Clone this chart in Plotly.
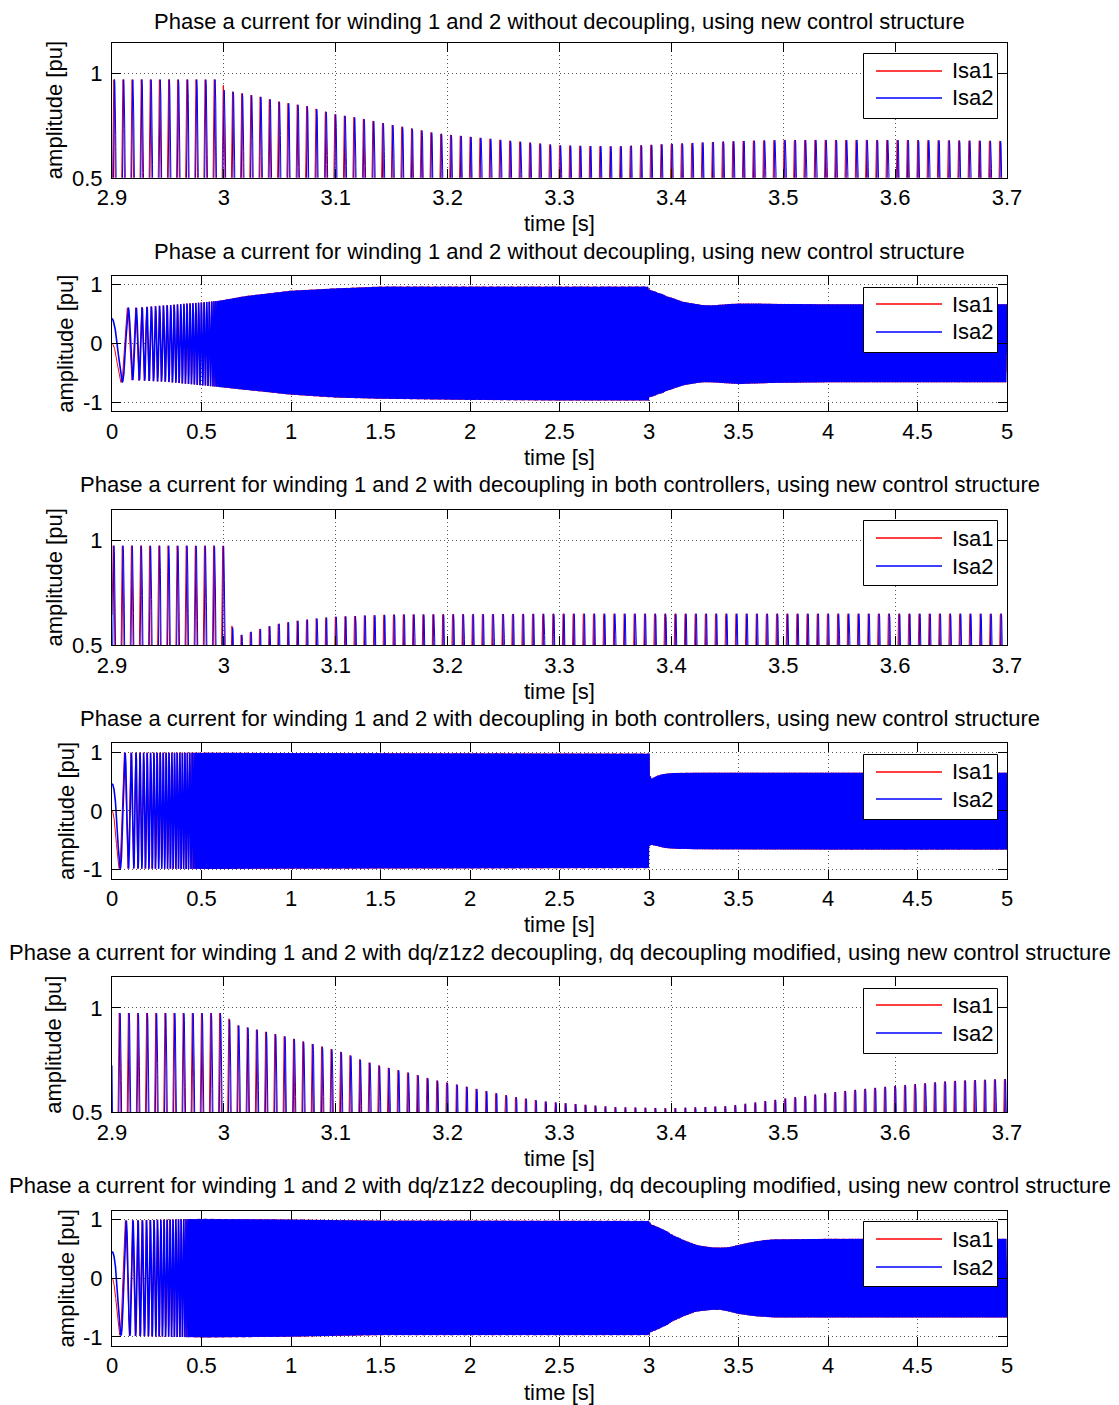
import numpy as np
import plotly.graph_objects as go

# page is drawn with the browser's default 8px body margin -> figure is placed at (8, 8)
# and every reference pixel position is shifted by OFF
OFF = 8
W, H = 1119 - OFF, 1405 - OFF

# ---------------- data ----------------
SERIES = ["Isa1", "Isa2"]
SERIES_COLORS = ["#ff0000", "#0000ff"]
ISA2_LAG_DEG = 30.0

TITLES = [
    "Phase a current for winding 1 and 2 without decoupling, using new control structure",
    "Phase a current for winding 1 and 2 without decoupling, using new control structure",
    "Phase a current for winding 1 and 2 with decoupling in both controllers, using new control structure",
    "Phase a current for winding 1 and 2 with decoupling in both controllers, using new control structure",
    "Phase a current for winding 1 and 2 with dq/z1z2 decoupling, dq decoupling modified, using new control structure",
    "Phase a current for winding 1 and 2 with dq/z1z2 decoupling, dq decoupling modified, using new control structure",
]
X_LABEL = "time [s]"
Y_LABEL = "amplitude [pu]"

ZOOM_XTICKS = [2.9, 3.0, 3.1, 3.2, 3.3, 3.4, 3.5, 3.6, 3.7]
ZOOM_XTICKTEXT = ["2.9", "3", "3.1", "3.2", "3.3", "3.4", "3.5", "3.6", "3.7"]
ZOOM_YTICKS = [0.5, 1.0]
ZOOM_YTICKTEXT = ["0.5", "1"]
FULL_XTICKS = [0, 0.5, 1, 1.5, 2, 2.5, 3, 3.5, 4, 4.5, 5]
FULL_XTICKTEXT = ["0", "0.5", "1", "1.5", "2", "2.5", "3", "3.5", "4", "4.5", "5"]
FULL_YTICKS = [-1, 0, 1]
FULL_YTICKTEXT = ["-1", "0", "1"]

# scenario 1: without decoupling (envelope of positive / negative peaks)
ENV1_T = [0.0, 0.05, 0.1, 0.3, 0.5, 0.6, 0.75, 1.0, 1.25, 1.5, 2.0, 2.5, 2.999, 3.0,
          3.033, 3.05, 3.074, 3.098, 3.123, 3.148, 3.172, 3.189, 3.25, 3.3, 3.35,
          3.4, 3.45, 3.5, 3.6, 3.7, 4.0, 5.0]
ENV1_UP = [0.86, 0.62, 0.60, 0.65, 0.70, 0.73, 0.81, 0.90, 0.94, 0.97, 0.97, 0.97, 0.97, 0.92,
           0.887, 0.863, 0.843, 0.805, 0.784, 0.755, 0.732, 0.713, 0.68, 0.655, 0.65,
           0.662, 0.674, 0.681, 0.681, 0.676, 0.67, 0.67]
ENV1_LO = [0.66, 0.66, 0.62, 0.65, 0.71, 0.74, 0.79, 0.87, 0.92, 0.94, 0.96, 0.97, 0.97, 0.92,
           0.887, 0.863, 0.843, 0.805, 0.784, 0.755, 0.732, 0.713, 0.68, 0.66, 0.66,
           0.67, 0.68, 0.69, 0.68, 0.67, 0.66, 0.66]
FREQ1_T = [0.0, 0.2, 0.55, 0.61, 3.0, 3.2, 3.4, 5.0]
FREQ1_HZ = [0.0, 40.0, 70.0, 122.5, 122.5, 114.0, 109.0, 109.0]

# scenario 2: decoupling in both controllers
ENV2_T = [0.0, 0.04, 0.5, 1.0, 2.0, 2.999, 3.0, 3.003, 3.01, 3.014, 3.031, 3.047,
          3.064, 3.081, 3.098, 3.125, 3.151, 3.3, 4.0, 5.0]
ENV2_UP = [0.92, 0.99, 0.99, 0.985, 0.98, 0.975, 0.975, 0.64, 0.56, 0.546, 0.575, 0.60,
           0.615, 0.626, 0.635, 0.641, 0.646, 0.65, 0.65, 0.65]
ENV2_LO = [0.98, 0.98, 0.99, 0.985, 0.98, 0.975, 0.975, 0.60, 0.58, 0.58, 0.59, 0.60,
           0.615, 0.626, 0.635, 0.641, 0.646, 0.655, 0.66, 0.66]
FREQ2_T = [0.0, 0.15, 0.44, 0.48, 3.0, 3.1, 3.3, 5.0]
FREQ2_HZ = [0.0, 47.0, 75.0, 122.5, 122.5, 116.0, 110.0, 110.0]

# scenario 3: dq/z1z2 decoupling, dq decoupling modified
ENV3_T = [0.0, 0.043, 0.07, 0.5, 0.95, 1.5, 2.0, 2.999, 3.0, 3.009, 3.05, 3.083, 3.107,
          3.123, 3.14, 3.156, 3.172, 3.189, 3.209, 3.227, 3.245, 3.263, 3.289, 3.35,
          3.4, 3.45, 3.5, 3.55, 3.6, 3.65, 3.7, 4.0, 5.0]
ENV3_UP = [0.90, 0.97, 0.98, 1.01, 1.0, 0.98, 0.98, 0.975, 0.975, 0.921, 0.87, 0.822, 0.786,
           0.75, 0.722, 0.702, 0.68, 0.654, 0.632, 0.611, 0.59, 0.571, 0.551, 0.525,
           0.52, 0.53, 0.565, 0.60, 0.627, 0.65, 0.66, 0.67, 0.67]
ENV3_LO = [0.97, 0.97, 0.98, 1.01, 1.0, 0.97, 0.97, 0.97, 0.97, 0.921, 0.87, 0.822, 0.786,
           0.75, 0.722, 0.702, 0.68, 0.654, 0.632, 0.611, 0.59, 0.571, 0.56, 0.54,
           0.54, 0.57, 0.61, 0.63, 0.65, 0.66, 0.67, 0.67, 0.67]
FREQ3_T = [0.0, 0.15, 0.40, 0.44, 3.0, 3.2, 3.35, 5.0]
FREQ3_HZ = [0.0, 40.0, 70.0, 122.5, 122.5, 114.0, 112.0, 112.0]

SCENARIOS = [
    (ENV1_T, ENV1_UP, ENV1_LO, FREQ1_T, FREQ1_HZ),
    (ENV2_T, ENV2_UP, ENV2_LO, FREQ2_T, FREQ2_HZ),
    (ENV3_T, ENV3_UP, ENV3_LO, FREQ3_T, FREQ3_HZ),
]
T_START, T_END = 0.0, 5.0
ZOOM_START, ZOOM_END = 2.9, 3.7

# ---------------- signal reconstruction ----------------
t = np.round(np.arange(0, 50001) * 1e-4, 6)


def currents(env_t, up, lo, ft, fhz):
    f = np.interp(t, ft, fhz)
    cyc = np.concatenate([[0.0], np.cumsum(0.5 * (f[1:] + f[:-1]) * np.diff(t))])
    out = []
    for lag in (0.0, np.deg2rad(ISA2_LAG_DEG)):
        s = np.sin(2 * np.pi * cyc + np.pi - lag)
        a = np.where(s >= 0, np.interp(t, env_t, up), np.interp(t, env_t, lo))
        out.append(a * s)
    return out


FONT = "Liberation Sans, Arial, sans-serif"
FS = 22

fig = go.Figure()
tops = [42.5 + 233.65 * i for i in range(6)]
PH = 135.3
XL, XR = 112, 1007


def px(x):
    return (x - OFF) / W


def py(y):
    return 1 - (y - OFF) / H


annotations = []
shapes = []
for i in range(6):
    scen = SCENARIOS[i // 2]
    zoom = (i % 2 == 0)
    sig = currents(*scen)
    if zoom:
        m = (t >= ZOOM_START - 1e-9) & (t <= ZOOM_END + 1e-9)
        tx = t[m]
        ys = [s[m] for s in sig]
        widths = [1.0, 1.0]
    else:
        tx = t[::3]
        ys = [s[::3] for s in sig]
        widths = [1.0, 1.6]
    ax = "" if i == 0 else str(i + 1)
    for k in range(2):
        fig.add_trace(go.Scatter(
            x=tx, y=ys[k], mode="lines", name=SERIES[k],
            line=dict(color=SERIES_COLORS[k], width=widths[k]),
            xaxis="x" + ax, yaxis="y" + ax, showlegend=False, hoverinfo="skip"))

    top = tops[i]
    bot = top + PH
    common = dict(showline=True, linecolor="black", linewidth=1, mirror="ticks",
                  ticks="inside", ticklen=9, tickwidth=1, tickcolor="black",
                  showgrid=True, gridcolor="#555555", gridwidth=1, griddash="1px,3px",
                  zeroline=False, automargin=False,
                  tickfont=dict(family=FONT, size=FS, color="black"))
    xa = dict(domain=[px(XL), px(XR)], anchor="y" + ax, **common)
    ya = dict(domain=[py(bot), py(top)], anchor="x" + ax, **common)
    if zoom:
        xa.update(range=[ZOOM_START, ZOOM_END], tickvals=ZOOM_XTICKS, ticktext=ZOOM_XTICKTEXT)
        ya.update(range=[0.5, 1.147], tickvals=ZOOM_YTICKS, ticktext=ZOOM_YTICKTEXT)
    else:
        xa.update(range=[T_START, T_END], tickvals=FULL_XTICKS, ticktext=FULL_XTICKTEXT)
        ya.update(range=[-1.155, 1.147], tickvals=FULL_YTICKS, ticktext=FULL_YTICKTEXT)
    xa["ticklabelstandoff"] = 0
    ya["ticklabelstandoff"] = 4
    fig.layout["xaxis" + ax] = xa
    fig.layout["yaxis" + ax] = ya

    title_y = 21.5 if i == 0 else top - 25
    annotations.append(dict(text=TITLES[i], x=px((XL + XR) / 2), y=py(title_y),
                            xref="paper", yref="paper", showarrow=False,
                            xanchor="center", yanchor="middle", borderpad=0,
                            font=dict(family=FONT, size=FS, color="black")))
    annotations.append(dict(text=X_LABEL, x=px((XL + XR) / 2), y=py(bot + 46),
                            xref="paper", yref="paper", showarrow=False,
                            xanchor="center", yanchor="middle",
                            font=dict(family=FONT, size=FS, color="black")))
    annotations.append(dict(text=Y_LABEL, x=px(54 if zoom else 66), y=py((top + bot) / 2),
                            xref="paper", yref="paper", showarrow=False, textangle=-90,
                            xanchor="center", yanchor="middle",
                            font=dict(family=FONT, size=FS, color="black")))
    # legend box
    bx0, bx1 = 863.5, 997.5
    by0 = round(top + 10.5) + 0.5
    shapes.append(dict(type="rect", xref="paper", yref="paper",
                       x0=px(bx0), x1=px(bx1), y0=py(by0 + 65), y1=py(by0),
                       line=dict(color="black", width=1), fillcolor="white"))
    for k in range(2):
        yy = round(top + 28.2 + 27.8 * k)
        shapes.append(dict(type="line", xref="paper", yref="paper",
                           x0=px(876), x1=px(942), y0=py(yy), y1=py(yy),
                           line=dict(color=SERIES_COLORS[k], width=1.5)))
        annotations.append(dict(text=SERIES[k], x=px(950), y=py(yy),
                                xref="paper", yref="paper", showarrow=False,
                                xanchor="left", yanchor="middle",
                                font=dict(family=FONT, size=FS, color="black")))

fig.update_layout(width=W, height=H, margin=dict(l=0, r=0, t=0, b=0),
                  paper_bgcolor="white", plot_bgcolor="white",
                  showlegend=False, annotations=annotations, shapes=shapes)
fig.write_html("out.html")
